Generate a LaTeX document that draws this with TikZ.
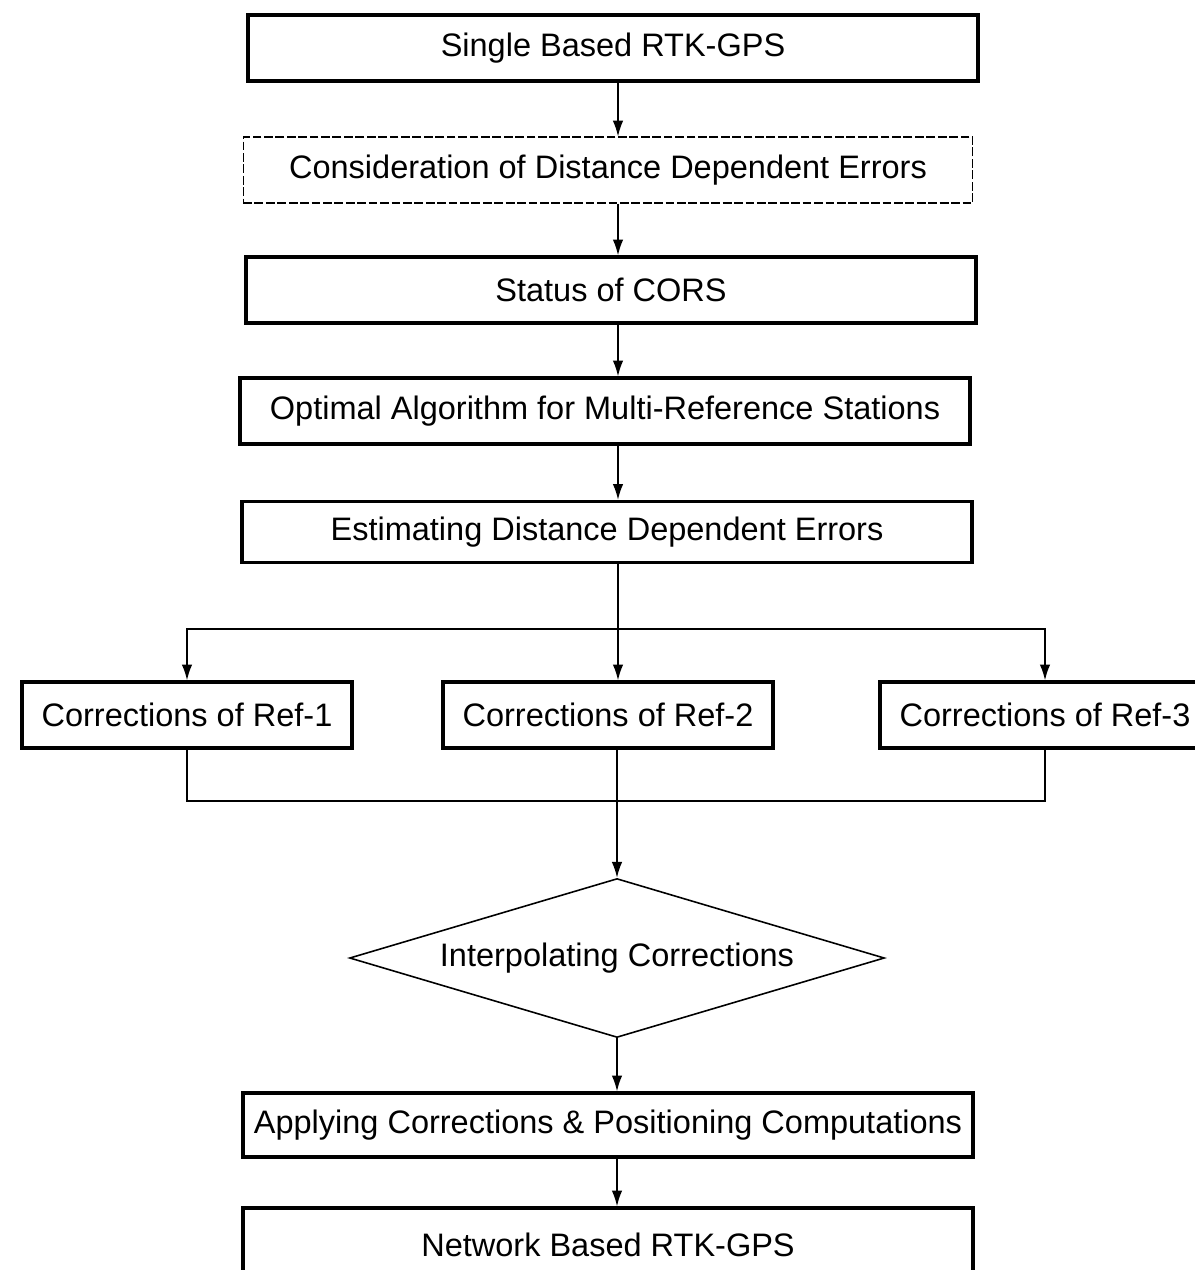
\documentclass[tikz,border=0pt]{standalone}
\usepackage{fontspec}
\setmainfont{Liberation Sans}
\usetikzlibrary{arrows.meta,shapes.geometric}

\begin{document}
\begin{tikzpicture}[x=0.02cm, y=-0.02cm]
\def \boxw {14.6cm}
\def \boxh {1.32cm}
\tikzset{
  stage/.style={draw, line width=1.9pt, minimum width=\boxw, minimum height=\boxh, inner sep=0pt, font=\fontsize{18.5}{21}\selectfont},
  faint/.style={stage, line width=0.6pt, dash pattern=on 5pt off 1.5pt},
  refbox/.style={stage, minimum width=6.6cm},
  decide/.style={draw, diamond, line width=0.9pt, aspect=3.36, minimum width=10.7cm, minimum height=3.18cm, inner sep=0pt, font=\fontsize{18.5}{21}\selectfont},
  link/.style={-{Latex[length=9pt,width=6pt]}, line width=0.9pt},
  wire/.style={line width=0.9pt}
}
\useasboundingbox (0,0) rectangle (1194,1270);

\node[stage] at (613,48) (single) {Single Based RTK-GPS};
\node[faint] at (608,170) (consider) {Consideration of Distance Dependent Errors};
\node[stage] at (611,290) (status) {Status of CORS};
\node[stage] at (605,411) (optimal) {Optimal Algorithm for Multi-Reference Stations};
\node[stage, minimum height=1.22cm] at (607,532) (estimate) {Estimating Distance Dependent Errors};

\node[refbox] at (187,715) (ref1) {Corrections of Ref-1};
\node[refbox] at (608,715) (ref2) {Corrections of Ref-2};
\node[refbox] at (1045,715) (ref3) {Corrections of Ref-3};

\node[decide] at (617,958) (interp) {Interpolating Corrections};
\node[stage, minimum height=1.28cm] at (608,1125) (apply) {Applying Corrections \& Positioning Computations};
\node[stage, minimum height=1.48cm] at (608,1245) (network) {Network Based RTK-GPS};

\coordinate (axis) at (618,0);
\coordinate (split) at (618,629);
\coordinate (merge) at (617,801);

\draw[link] (single.south -| axis) -- (consider.north -| axis);
\draw[link] (consider.south -| axis) -- (status.north -| axis);
\draw[link] (status.south -| axis) -- (optimal.north -| axis);
\draw[link] (optimal.south -| axis) -- (estimate.north -| axis);

\draw[wire] (estimate.south -| axis) -- (split);
\draw[link] (split) -- (ref2.north -| axis);
\draw[link] (split) -| (ref1.north);
\draw[link] (split) -| (ref3.north);

\draw[wire] (ref1.south) |- (merge);
\draw[wire] (ref3.south) |- (merge);
\draw[wire] (ref2.south -| merge) -- (merge);
\draw[link] (merge) -- (interp.north);

\draw[link] (interp.south) -- (apply.north -| interp.south);
\draw[link] (apply.south -| interp.south) -- (network.north -| interp.south);

\end{tikzpicture}
\end{document}
